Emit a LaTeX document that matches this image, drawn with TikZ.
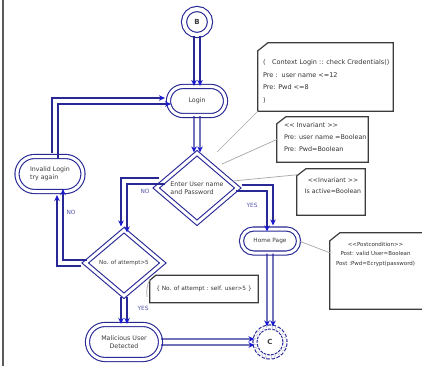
\documentclass[tikz,border=0pt]{standalone}
\usepackage{fontspec}
\setmainfont{DejaVu Sans}[Ligatures=NoCommon]
\usetikzlibrary{shapes.misc,shapes.geometric,arrows.meta}
\definecolor{navy}{RGB}{40,40,150}
\definecolor{tipblue}{RGB}{25,25,210}
\definecolor{notegray}{RGB}{60,60,60}
\definecolor{txtgray}{RGB}{60,60,60}
\definecolor{framegray}{RGB}{90,90,90}
\newcommand{\lt}{<{}<}
\newcommand{\gtt}{>{}>}
\begin{document}
\begin{tikzpicture}[x=1pt,y=-1pt,
  dblnode/.style={draw=navy, double=white, double distance=3pt, line width=1.1pt,
    font=\fontsize{6.3}{8.5}\selectfont, text=txtgray, align=center, inner sep=0pt},
  capsule/.style={dblnode, rounded rectangle},
  decide/.style={dblnode, diamond},
  startc/.style={dblnode, circle, minimum size=26pt, double distance=4pt, font=\fontsize{7}{8}\selectfont\bfseries},
  endc/.style={dblnode, circle, minimum size=30pt, dash pattern=on 3pt off 1.5pt, font=\fontsize{7}{8}\selectfont\bfseries},
  fl/.style={draw=navy, line width=1.2pt, -{Stealth[length=6pt,width=5.5pt,color=tipblue]}},
  lbl/.style={font=\fontsize{5.8}{7}\selectfont, text=navy!80, inner sep=0pt},
  notebg/.style={inner sep=0pt},
  notebox/.style={draw=notegray, line width=1.2pt, fill=white},
  notetext/.style={inner sep=0pt, text=black!80},
  lead/.style={draw=gray!70, line width=0.7pt}]
\clip (0,0) rectangle (422,366);
\fill[white] (0,0) rectangle (422,366);
\draw[framegray, line width=2pt] (2.5,0) -- (2.5,366);

% flow nodes
\node[startc] (b) at (197,22) {B};
\node[capsule, minimum width=57pt, minimum height=29pt] (login) at (197,101) {Login};
\node[decide, minimum width=82pt, minimum height=70pt, align=left] (d1) at (197,188) {Enter User name\\and Password};
\node[capsule, minimum width=66pt, minimum height=35pt, align=left] (inv) at (50,174) {Invalid Login\\try again};
\node[decide, minimum width=78pt, minimum height=66pt, font=\fontsize{5.6}{7}\selectfont] (d2) at (124,263) {No. of attempt>5};
\node[capsule, minimum width=73pt, minimum height=35pt] (mal) at (124,342) {Malicious User\\Detected};
\node[capsule, minimum width=57pt, minimum height=24pt, font=\fontsize{5.8}{7}\selectfont] (home) at (270,241) {Home Page};
\node[endc] (c) at (270,342) {C};

% connectors (double lines)
\foreach \s in {-3,3} {
  \draw[fl, transform canvas={xshift=\s pt}] (b) -- (login);
  \draw[fl, transform canvas={xshift=\s pt}] (login) -- (d1);
  \draw[fl, transform canvas={xshift=\s pt}] (d2) -- (mal);
  \draw[fl, transform canvas={xshift=\s pt}] (home) -- (c);
  \draw[fl, transform canvas={yshift=\s pt}] (mal) -- (c);
}
\coordinate (d1no) at ([xshift=7pt,yshift=7pt]d1.west);
\draw[fl, transform canvas={xshift=-3pt,yshift=3pt}] (d1no) -| (d2.north);
\draw[fl, transform canvas={xshift=3pt,yshift=-3pt}] (d1no) -| (d2.north);
\draw[fl, transform canvas={xshift=-3pt,yshift=-3pt}] (d2.west) -| ([xshift=10pt]inv.south);
\draw[fl, transform canvas={xshift=3pt,yshift=3pt}] (d2.west) -| ([xshift=10pt]inv.south);
\draw[fl, transform canvas={xshift=-3pt,yshift=3pt}] ([xshift=5pt]inv.north) |- (login.west);
\draw[fl, transform canvas={xshift=3pt,yshift=-3pt}] ([xshift=5pt]inv.north) |- (login.west);
\draw[fl, transform canvas={xshift=3pt,yshift=3pt}] (d1.east) -| (home.north);
\draw[fl, transform canvas={xshift=-3pt,yshift=-3pt}] (d1.east) -| (home.north);

% labels
\node[lbl] (no1) at (145,191) {NO};
\node[lbl] (no2) at (71,212) {NO};
\node[lbl] (yes1) at (252,205) {YES};
\node[lbl] (yes2) at (143,308) {YES};

% notes
\node[notebg, minimum width=135pt, minimum height=68pt] (ctx) at (325.5,77) {};
\draw[notebox] ([xshift=10pt]ctx.north west) -- (ctx.north east) -- (ctx.south east) -- (ctx.south west) -- ([yshift=-8pt]ctx.north west) -- cycle;
\node[notetext, anchor=north west, align=left, font=\fontsize{6.5}{12.5}\selectfont] (ctxt) at ([xshift=5pt,yshift=-17pt]ctx.north west)
  {(\quad Context Login :: check Credentials()\\Pre :\ \ user name <=12\\Pre: Pwd <=8\\)};

\node[notebg, minimum width=91pt, minimum height=45pt] (inv1) at (322.5,139.5) {};
\draw[notebox] ([xshift=9pt]inv1.north west) -- (inv1.north east) -- (inv1.south east) -- (inv1.south west) -- ([yshift=-7pt]inv1.north west) -- cycle;
\node[notetext, anchor=north west, align=left, font=\fontsize{6.4}{12}\selectfont] (inv1t) at ([xshift=7pt,yshift=-6pt]inv1.north west)
  {\lt{} Invariant \gtt\\Pre: user name =Boolean\\Pre: Pwd=Boolean};

\node[notebg, minimum width=68pt, minimum height=46pt] (inv2) at (331,192) {};
\draw[notebox] ([xshift=9pt]inv2.north west) -- (inv2.north east) -- (inv2.south east) -- (inv2.south west) -- ([yshift=-7pt]inv2.north west) -- cycle;
\node[notetext, anchor=north, align=center, font=\fontsize{6.2}{10.5}\selectfont] (inv2t) at ([xshift=2pt,yshift=-9pt]inv2.north)
  {\lt Invariant \gtt\\Is active=Boolean};

\node[notebg, minimum width=110pt, minimum height=76pt] (post) at (385,271) {};
\draw[notebox] ([xshift=10pt]post.north west) -- (post.north east) -- (post.south east) -- (post.south west) -- ([yshift=-8pt]post.north west) -- cycle;
\node[notetext, anchor=north west, align=center, font=\fontsize{5.5}{9.5}\selectfont] (postt) at ([xshift=6pt,yshift=-9pt]post.north west)
  {\lt Postcondition\gtt\\Post: valid User=Boolean\\Post :Pwd=Ecrypt(password)};

\node[notebg, minimum width=108pt, minimum height=27pt] (att) at (204,289) {};
\draw[notebox] ([xshift=6pt]att.north west) -- (att.north east) -- (att.south east) -- (att.south west) -- ([yshift=-5pt]att.north west) -- cycle;
\node[notetext, font=\fontsize{5.8}{7}\selectfont] (attt) at (att) {\{ No. of attempt : self. user>5 \}};

% lead lines
\coordinate (e1) at (217,152);
\coordinate (e2) at (222,164);
\coordinate (e3) at (233,181);
\coordinate (e5) at (147,297);
\draw[lead] (ctx.south west) -- (e1);
\draw[lead] (inv1.west) -- (e2);
\draw[lead] ([yshift=-6pt]inv2.north west) -- (e3);
\draw[lead] (home.east) -- ([yshift=-20pt]post.north west);
\draw[lead] ([yshift=-4pt]att.north west) to[bend right=15] (e5);
\end{tikzpicture}
\end{document}
